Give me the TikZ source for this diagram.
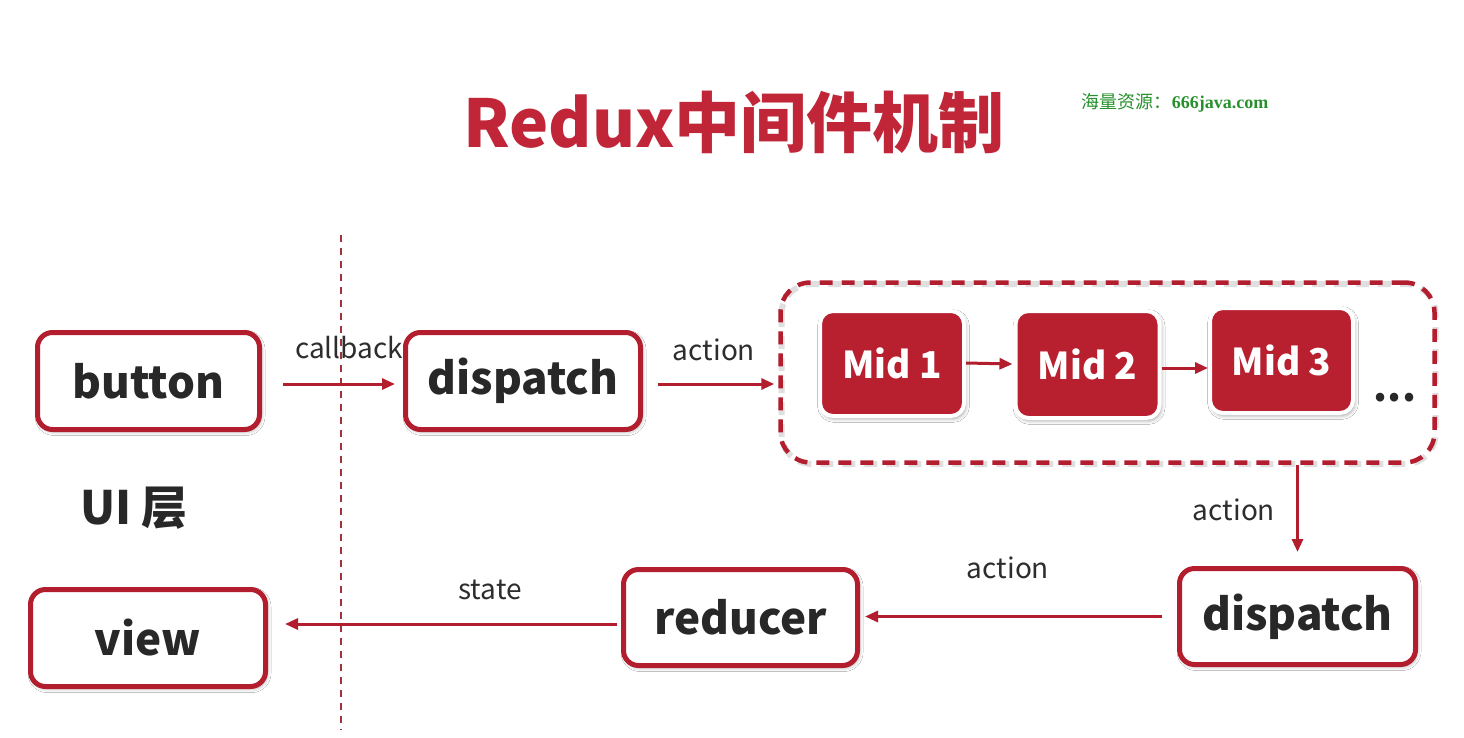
\documentclass[tikz,border=0pt]{standalone}
\usepackage{fontspec}
\setmainfont{Noto Sans CJK SC}
\newfontfamily\wmserif{Liberation Serif}
\usetikzlibrary{arrows.meta,shadows.blur,calc}
\definecolor{crim}{RGB}{178,30,45}
\definecolor{titlered}{RGB}{192,38,56}
\definecolor{midfill}{RGB}{184,31,47}
\definecolor{dark}{RGB}{40,40,40}
\definecolor{lbl}{RGB}{45,45,45}
\definecolor{vline}{RGB}{160,50,62}
\definecolor{wmgreen}{RGB}{40,145,45}
\tikzset{
  wbox/.style={draw=crim, line width=5pt, fill=white, rounded corners=15pt,
    text=dark, font=\bfseries\fontsize{44}{48}\selectfont, inner sep=0pt,
    blur shadow={shadow xshift=1.5pt, shadow yshift=-2pt, shadow blur radius=4pt, shadow opacity=35}},
  midbox/.style={draw=white, line width=4pt, fill=midfill, rounded corners=13pt,
    text=white, font=\bfseries\fontsize{37}{40}\selectfont, inner sep=0pt,
    minimum width=144pt, minimum height=105pt,
    blur shadow={shadow xshift=1.5pt, shadow yshift=-2.5pt, shadow blur radius=4pt, shadow opacity=40}},
  arr/.style={draw=crim, line width=3pt, -{Triangle[length=13pt,width=11pt]}},
  lab/.style={text=lbl, font=\fontsize{28}{30}\selectfont, inner sep=0pt},
}
\begin{document}
\begin{tikzpicture}[x=1pt,y=-1pt]
\useasboundingbox (0,0) rectangle (1464,737);
\fill[white] (0,0) rectangle (1464,737);

% title and watermark
\node[text=titlered, font=\bfseries\fontsize{66}{70}\selectfont, inner sep=0pt] (title) at (734,122) {Redux中间件机制};
\node[text=wmgreen, font=\fontsize{18}{20}\selectfont, inner sep=0pt] (wm) at (1175,103) {海量资源：{\wmserif\bfseries 666java.com}};

% vertical dashed separator
\coordinate (vtop) at (341,235);
\coordinate (vbot) at (341,730);
\draw[vline, line width=1.8pt, dash pattern=on 7pt off 6pt] (vtop) -- (vbot);

% white boxes
\node[wbox, minimum width=222pt, minimum height=97pt] (button) at (148.5,381) {button};
\node[wbox, minimum width=235pt, minimum height=97pt] (disp1) at (523,381) {dispatch};
\node[wbox, minimum width=235pt, minimum height=97pt] (view) at (148,638) {view};
\node[wbox, minimum width=234pt, minimum height=96pt] (reducer) at (740.5,617.5) {reducer};
\node[wbox, minimum width=236pt, minimum height=96pt] (disp2) at (1297.5,616.5) {dispatch};

% middleware container
\draw[gray, opacity=0.25, line width=6pt, dash pattern=on 13pt off 9pt, rounded corners=30pt]
  (781.5,284) rectangle (1435.5,464);
\node[draw=crim, line width=4.5pt, dash pattern=on 13pt off 9pt, rounded corners=30pt,
  minimum width=654pt, minimum height=180pt, inner sep=0pt] (mw) at (1107.5,372.5) {};

\node[midbox] (mid1) at (892,363.5) {Mid 1};
\node[midbox, minimum height=107pt] (mid2) at (1087.5,364.5) {Mid 2};
\node[midbox, minimum width=143pt] (mid3) at (1281.5,360.5) {Mid 3};
\node[text=dark, font=\bfseries\fontsize{40}{40}\selectfont, inner sep=0pt] (dots) at (1395,398) {...};

% UI layer label
\node[text=dark, font=\bfseries\fontsize{46}{48}\selectfont, inner sep=0pt] (ui) at (134,508) {UI 层};

% connectors
\draw[arr] ([xshift=21pt,yshift=-3pt]button.east) -- ([xshift=-8pt,yshift=-3pt]disp1.west);
\draw[arr] ([xshift=15pt,yshift=-3pt]disp1.east) -- ([xshift=-4pt,yshift=-11.5pt]mw.west);
\draw[arr] ([yshift=0.5pt]mid1.east) -- ([yshift=0.5pt,xshift=-1pt]mid2.west -| mid2.west);
\draw[arr] ([yshift=-3.5pt]mid2.east) -- ([yshift=-3.5pt]mid2.east -| mid3.west);
\draw[arr] (mw.south -| disp2.north) -- ([yshift=14pt]disp2.north);
\draw[arr] ([xshift=-15pt]disp2.west) -- ([xshift=5pt,yshift=1pt]reducer.east);
\draw[arr] ([xshift=-4pt,yshift=-6.5pt]reducer.west) -- ([xshift=17pt,yshift=-6.5pt]reducer.west -| view.east);

% labels
\node[lab] (lcb) at (349,348) {callback};
\node[lab] (la1) at (714,350) {action};
\node[lab] (la2) at (1234,510) {action};
\node[lab] (la3) at (1008,568) {action};
\node[lab] (lst) at (490,590) {state};
\end{tikzpicture}
\end{document}
